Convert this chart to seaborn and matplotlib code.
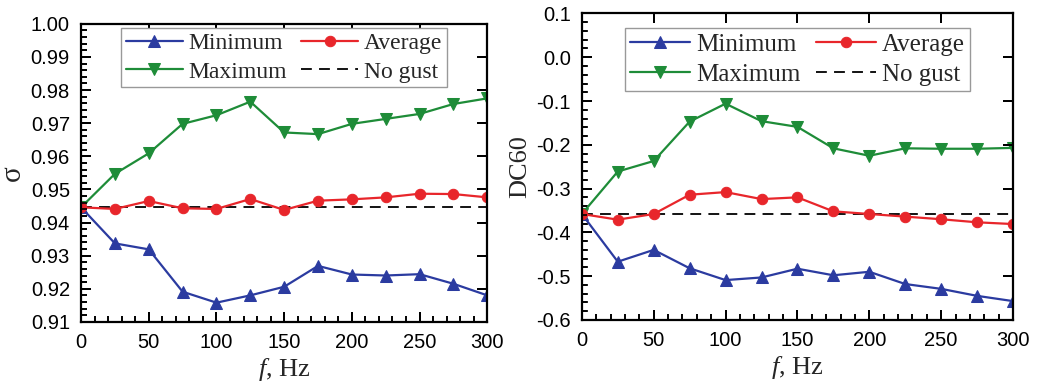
import matplotlib
matplotlib.use("Agg")
import matplotlib.pyplot as plt
from matplotlib.ticker import MultipleLocator, FormatStrFormatter
import seaborn as sns

f_hz = [0, 25, 50, 75, 100, 125, 150, 175, 200, 225, 250, 275, 300]

sigma_min = [0.9446, 0.9337, 0.9319, 0.9191, 0.9158, 0.9180, 0.9206, 0.9269, 0.9243, 0.9240, 0.9244, 0.9215, 0.9180]
sigma_avg = [0.9446, 0.9441, 0.9465, 0.9443, 0.9441, 0.9471, 0.9438, 0.9466, 0.9470, 0.9476, 0.9487, 0.9486, 0.9476]
sigma_max = [0.9446, 0.9547, 0.9609, 0.9698, 0.9724, 0.9765, 0.9672, 0.9667, 0.9698, 0.9713, 0.9728, 0.9758, 0.9775]
sigma_nogust = 0.9446

dc_min = [-0.358, -0.467, -0.440, -0.482, -0.509, -0.503, -0.483, -0.498, -0.490, -0.518, -0.529, -0.545, -0.557]
dc_avg = [-0.358, -0.371, -0.358, -0.314, -0.308, -0.324, -0.320, -0.352, -0.358, -0.364, -0.370, -0.377, -0.381]
dc_max = [-0.358, -0.261, -0.237, -0.147, -0.106, -0.146, -0.159, -0.208, -0.225, -0.208, -0.209, -0.209, -0.207]
dc_nogust = -0.358

sns.set_style("ticks", {"xtick.direction": "in", "ytick.direction": "in"})
plt.rcParams.update({
    'font.family': ['Liberation Sans', 'DejaVu Sans'],
    'mathtext.fontset': 'custom',
    'mathtext.it': 'Liberation Serif:italic',
    'mathtext.rm': 'Liberation Serif',
    'xtick.labelsize': 14.5, 'ytick.labelsize': 14.5,
    'xtick.major.pad': 8, 'ytick.major.pad': 8,
    'xtick.top': True, 'ytick.right': True,
    'xtick.color': 'black', 'ytick.color': 'black',
    'axes.edgecolor': 'black', 'axes.linewidth': 1.6,
})

BLUE = "#2B3BA0"
RED = "#E8262B"
GREEN = "#1E8C38"
serif = ['Liberation Serif', 'DejaVu Serif']

MAJ_LEN, MAJ_W = 7.0, 1.4
MIN_LEN, MIN_W = 4.0, 1.2

fig = plt.figure(figsize=(10.39, 3.85), dpi=100)
ax1 = fig.add_axes([0.078, 0.164, 0.391, 0.774])
ax2 = fig.add_axes([0.560, 0.169, 0.415, 0.796])

def draw(ax, vmin, vavg, vmax, nogust, legend_y, legend_size):
    sns.lineplot(x=f_hz, y=vmin, ax=ax, color=BLUE, marker='^', markersize=8,
                 markeredgecolor=BLUE, linewidth=1.6, label='Minimum')
    sns.lineplot(x=f_hz, y=vmax, ax=ax, color=GREEN, marker='v', markersize=8,
                 markeredgecolor=GREEN, linewidth=1.6, label='Maximum')
    sns.lineplot(x=f_hz, y=vavg, ax=ax, color=RED, marker='o', markersize=7.5,
                 markeredgecolor=RED, linewidth=1.6, label='Average')
    ax.axhline(nogust, color='black', linestyle=(0, (6, 4)), linewidth=1.3,
               label='No gust', zorder=1)
    ax.tick_params(axis='both', which='major', direction='in', length=MAJ_LEN, width=MAJ_W)
    ax.tick_params(axis='both', which='minor', direction='in', length=MIN_LEN, width=MIN_W)
    ax.set_xlim(0, 300)
    ax.xaxis.set_major_locator(MultipleLocator(50))
    ax.xaxis.set_minor_locator(MultipleLocator(10))
    ax.set_xlabel(r'$f$, Hz', fontsize=19, family=serif, labelpad=3)
    h, l = ax.get_legend_handles_labels()
    leg = ax.legend(h, l, ncol=2,
                    loc='upper center', bbox_to_anchor=(0.5, legend_y),
                    prop={'family': serif, 'size': legend_size}, frameon=True,
                    fancybox=False, edgecolor='#999999', handlelength=2.4,
                    handletextpad=0.25, columnspacing=0.6, borderpad=0.2,
                    labelspacing=0.3, borderaxespad=0.0, framealpha=1)
    leg.get_frame().set_linewidth(1.0)

def reinforce_ticks(ax):
    # tick marks at the axis locator positions, drawn as short segments in axes units
    bb = ax.get_position()
    w_px = bb.width * fig.get_figwidth() * fig.dpi
    h_px = bb.height * fig.get_figheight() * fig.dpi
    pt = fig.dpi / 72.0
    x0, x1 = ax.get_xlim()
    y0, y1 = sorted(ax.get_ylim())
    xmaj = [v for v in ax.xaxis.get_majorticklocs() if x0 <= v <= x1]
    xmin = [v for v in ax.xaxis.get_minorticklocs() if x0 <= v <= x1]
    ymaj = [v for v in ax.yaxis.get_majorticklocs() if y0 - 1e-9 <= v <= y1 + 1e-9]
    ymin = [v for v in ax.yaxis.get_minorticklocs() if y0 <= v <= y1]
    fx_maj, fx_min = MAJ_LEN * pt / h_px, MIN_LEN * pt / h_px
    fy_maj, fy_min = MAJ_LEN * pt / w_px, MIN_LEN * pt / w_px
    xt = ax.get_xaxis_transform()
    yt = ax.get_yaxis_transform()
    kw = dict(colors='black', clip_on=False, zorder=3)
    ax.vlines(xmaj, 0, fx_maj, transform=xt, linewidth=MAJ_W, **kw)
    ax.vlines(xmaj, 1 - fx_maj, 1, transform=xt, linewidth=MAJ_W, **kw)
    ax.vlines(xmin, 0, fx_min, transform=xt, linewidth=MIN_W, **kw)
    ax.hlines(ymaj, 0, fy_maj, transform=yt, linewidth=MAJ_W, **kw)
    ax.hlines(ymaj, 1 - fy_maj, 1, transform=yt, linewidth=MAJ_W, **kw)
    ax.hlines(ymin, 0, fy_min, transform=yt, linewidth=MIN_W, **kw)
    ax.set_xlim(x0, x1)
    ax.set_ylim(*ax.get_ylim())

draw(ax1, sigma_min, sigma_avg, sigma_max, sigma_nogust, 0.987, 17)
ax1.set_ylim(0.91, 1.00)
ax1.yaxis.set_major_locator(MultipleLocator(0.01))
ax1.yaxis.set_minor_locator(MultipleLocator(0.002))
ax1.yaxis.set_major_formatter(FormatStrFormatter('%.2f'))
ax1.set_ylabel('σ', fontsize=21, family=serif)
ax1.yaxis.set_label_coords(-0.135, 0.5)

draw(ax2, dc_min, dc_avg, dc_max, dc_nogust, 0.952, 18)
ax2.set_ylim(-0.6, 0.1)
ax2.yaxis.set_major_locator(MultipleLocator(0.1))
ax2.yaxis.set_minor_locator(MultipleLocator(0.02))
ax2.yaxis.set_major_formatter(FormatStrFormatter('%.1f'))
ax2.set_ylabel('DC60', fontsize=19, family=serif)
ax2.yaxis.set_label_coords(-0.118, 0.5)

for ax in (ax1, ax2):
    ax.tick_params(axis='x', which='minor', top=False)
    ax.tick_params(axis='y', which='minor', right=False)
    reinforce_ticks(ax)

fig.savefig("out.png", dpi=100)
